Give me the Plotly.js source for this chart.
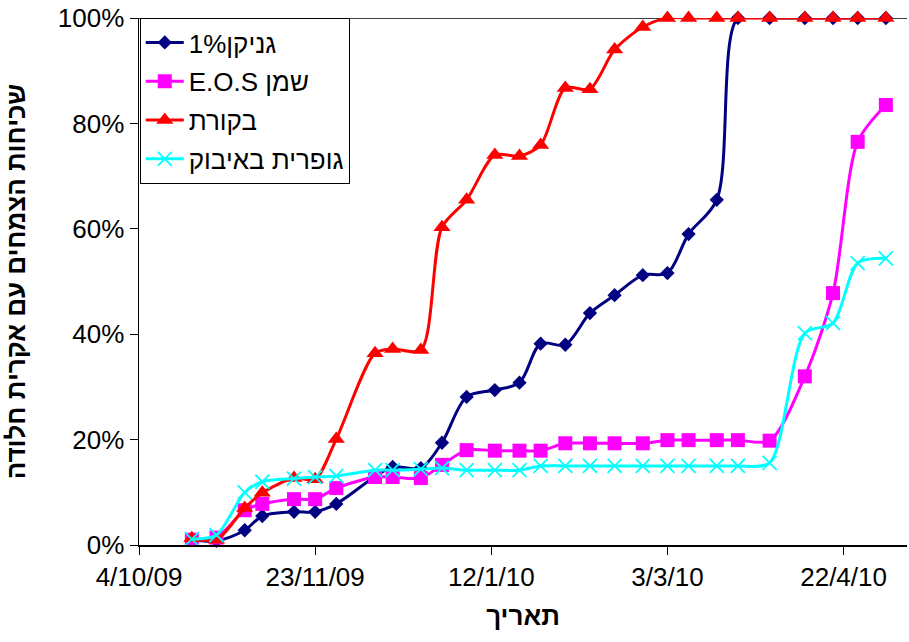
<!DOCTYPE html>
<html>
<head>
<meta charset="utf-8">
<script src="https://cdn.plot.ly/plotly-3.0.1.min.js"></script>
<style>html,body{margin:0;padding:0;background:#fff;}#chart{width:909px;height:642px;}</style>
</head>
<body>
<div id="chart"></div>
<script>
const dates = ['2009-10-19','2009-10-26','2009-11-03','2009-11-08','2009-11-17','2009-11-23','2009-11-29',
  '2009-12-10','2009-12-15','2009-12-23','2009-12-29','2010-01-05','2010-01-13','2010-01-20','2010-01-26',
  '2010-02-02','2010-02-09','2010-02-16','2010-02-24','2010-03-03','2010-03-09','2010-03-17','2010-03-23',
  '2010-04-01','2010-04-11','2010-04-19','2010-04-26','2010-05-04'];

const ganikan = [1.0,0.8,2.8,5.5,6.3,6.3,7.8,13.0,14.8,14.6,19.4,28.1,29.4,30.8,38.2,38.0,44.0,47.4,51.2,51.6,59.0,65.5,100,100,100,100,100,100];
const eosOil = [1.0,1.4,6.6,7.8,8.7,8.7,10.8,12.9,12.9,12.7,15.2,18.0,17.9,17.9,17.9,19.3,19.3,19.3,19.3,19.9,19.9,19.9,19.9,19.8,32.0,47.8,76.5,83.5];
const control = [1.3,1.0,7.0,9.9,12.7,12.5,20.1,36.4,37.2,37.0,60.3,65.5,74.0,73.8,75.9,86.7,86.5,94.0,98.3,100,100,100,100,100,100,100,100,100];
const sulfur = [1.1,1.9,10.0,12.0,12.6,12.9,13.1,14.2,14.2,14.4,14.6,14.2,14.2,14.2,15.0,15.0,15.0,15.0,15.0,15.0,15.0,15.0,15.0,15.6,40.2,42.1,53.5,54.4];

const seriesNames = ['גניקן1%', 'E.O.S שמן', 'בקורת', 'גופרית באיבוק'];
const xTickVals = ['2009-10-04','2009-11-23','2010-01-12','2010-03-03','2010-04-22'];
const xTickText = ['4/10/09','23/11/09','12/1/10','3/3/10','22/4/10'];
const yTickVals = [0,20,40,60,80,100];
const yTickText = ['0%','20%','40%','60%','80%','100%'];
const xRange = ['2009-10-04','2010-05-10'];

const FONT = 'Liberation Sans, Arial, sans-serif';

const traces = [
  {x: dates, y: ganikan, name: seriesNames[0], legendgroup:'a', type:'scatter', mode:'lines+markers', cliponaxis:false,
   line:{color:'#000080', width:3, shape:'spline', smoothing:0.9},
   marker:{symbol:'diamond', size:11, color:'#000080'}},
  {x: dates, y: eosOil, name: seriesNames[1], legendgroup:'b', type:'scatter', mode:'lines+markers', cliponaxis:false,
   line:{color:'#FF00FF', width:3, shape:'spline', smoothing:0.8},
   marker:{symbol:'square', size:14, color:'#FF00FF'}},
  {x: dates, y: control, name: seriesNames[2], legendgroup:'c', type:'scatter', mode:'lines+markers', cliponaxis:false,
   line:{color:'#FF0000', width:3, shape:'spline', smoothing:0.8},
   marker:{symbol:'triangle-up', size:15, color:'#FF0000'}},
  {x: dates, y: sulfur, name: seriesNames[3], legendgroup:'d', type:'scatter', mode:'lines+markers', cliponaxis:false,
   line:{color:'#00FFFF', width:3, shape:'spline', smoothing:0.8},
   marker:{symbol:'x-thin', size:14, color:'#00FFFF', line:{color:'#00FFFF', width:1.8}}}
];

const layout = {
  width: 909, height: 642,
  margin: {l:139, r:2, t:18, b:97},
  paper_bgcolor:'#fff', plot_bgcolor:'#fff',
  font: {family: FONT, color:'#000', size:22},
  showlegend: true,
  legend: {x:0.001, y:1, xanchor:'left', yanchor:'top', bgcolor:'#fff', bordercolor:'#000', borderwidth:1,
           font:{family:FONT, size:26, color:'#000'}, tracegroupgap:2, itemwidth:38},
  xaxis: {type:'date', range:xRange, tickvals:xTickVals, ticktext:xTickText, showgrid:false, zeroline:false,
          showline:true, linecolor:'#000', linewidth:1.5, ticks:'outside', ticklen:8, tickcolor:'#000',
          tickfont:{family:FONT, size:26, color:'#000'},
          title:{text:'תאריך', font:{family:FONT, size:26, color:'#000', weight:'bold'}, standoff:16}},
  yaxis: {range:[0,100], tickvals:yTickVals, ticktext:yTickText, showgrid:false, zeroline:false,
          showline:true, linecolor:'#000', linewidth:1.5, ticks:'outside', ticklen:8, tickcolor:'#000',
          tickfont:{family:FONT, size:26, color:'#000'},
          title:{text:'שכיחות הצמחים עם אקרית חלודה', font:{family:FONT, size:26, color:'#000', weight:'bold'}, standoff:24}},
  shapes: [{type:'line', xref:'paper', yref:'y', x0:0, x1:1, y0:100, y1:100, line:{color:'#000', width:1.5}, layer:'below'}]
};

Plotly.newPlot('chart', traces, layout, {displayModeBar:false, staticPlot:true});
</script>
</body>
</html>
